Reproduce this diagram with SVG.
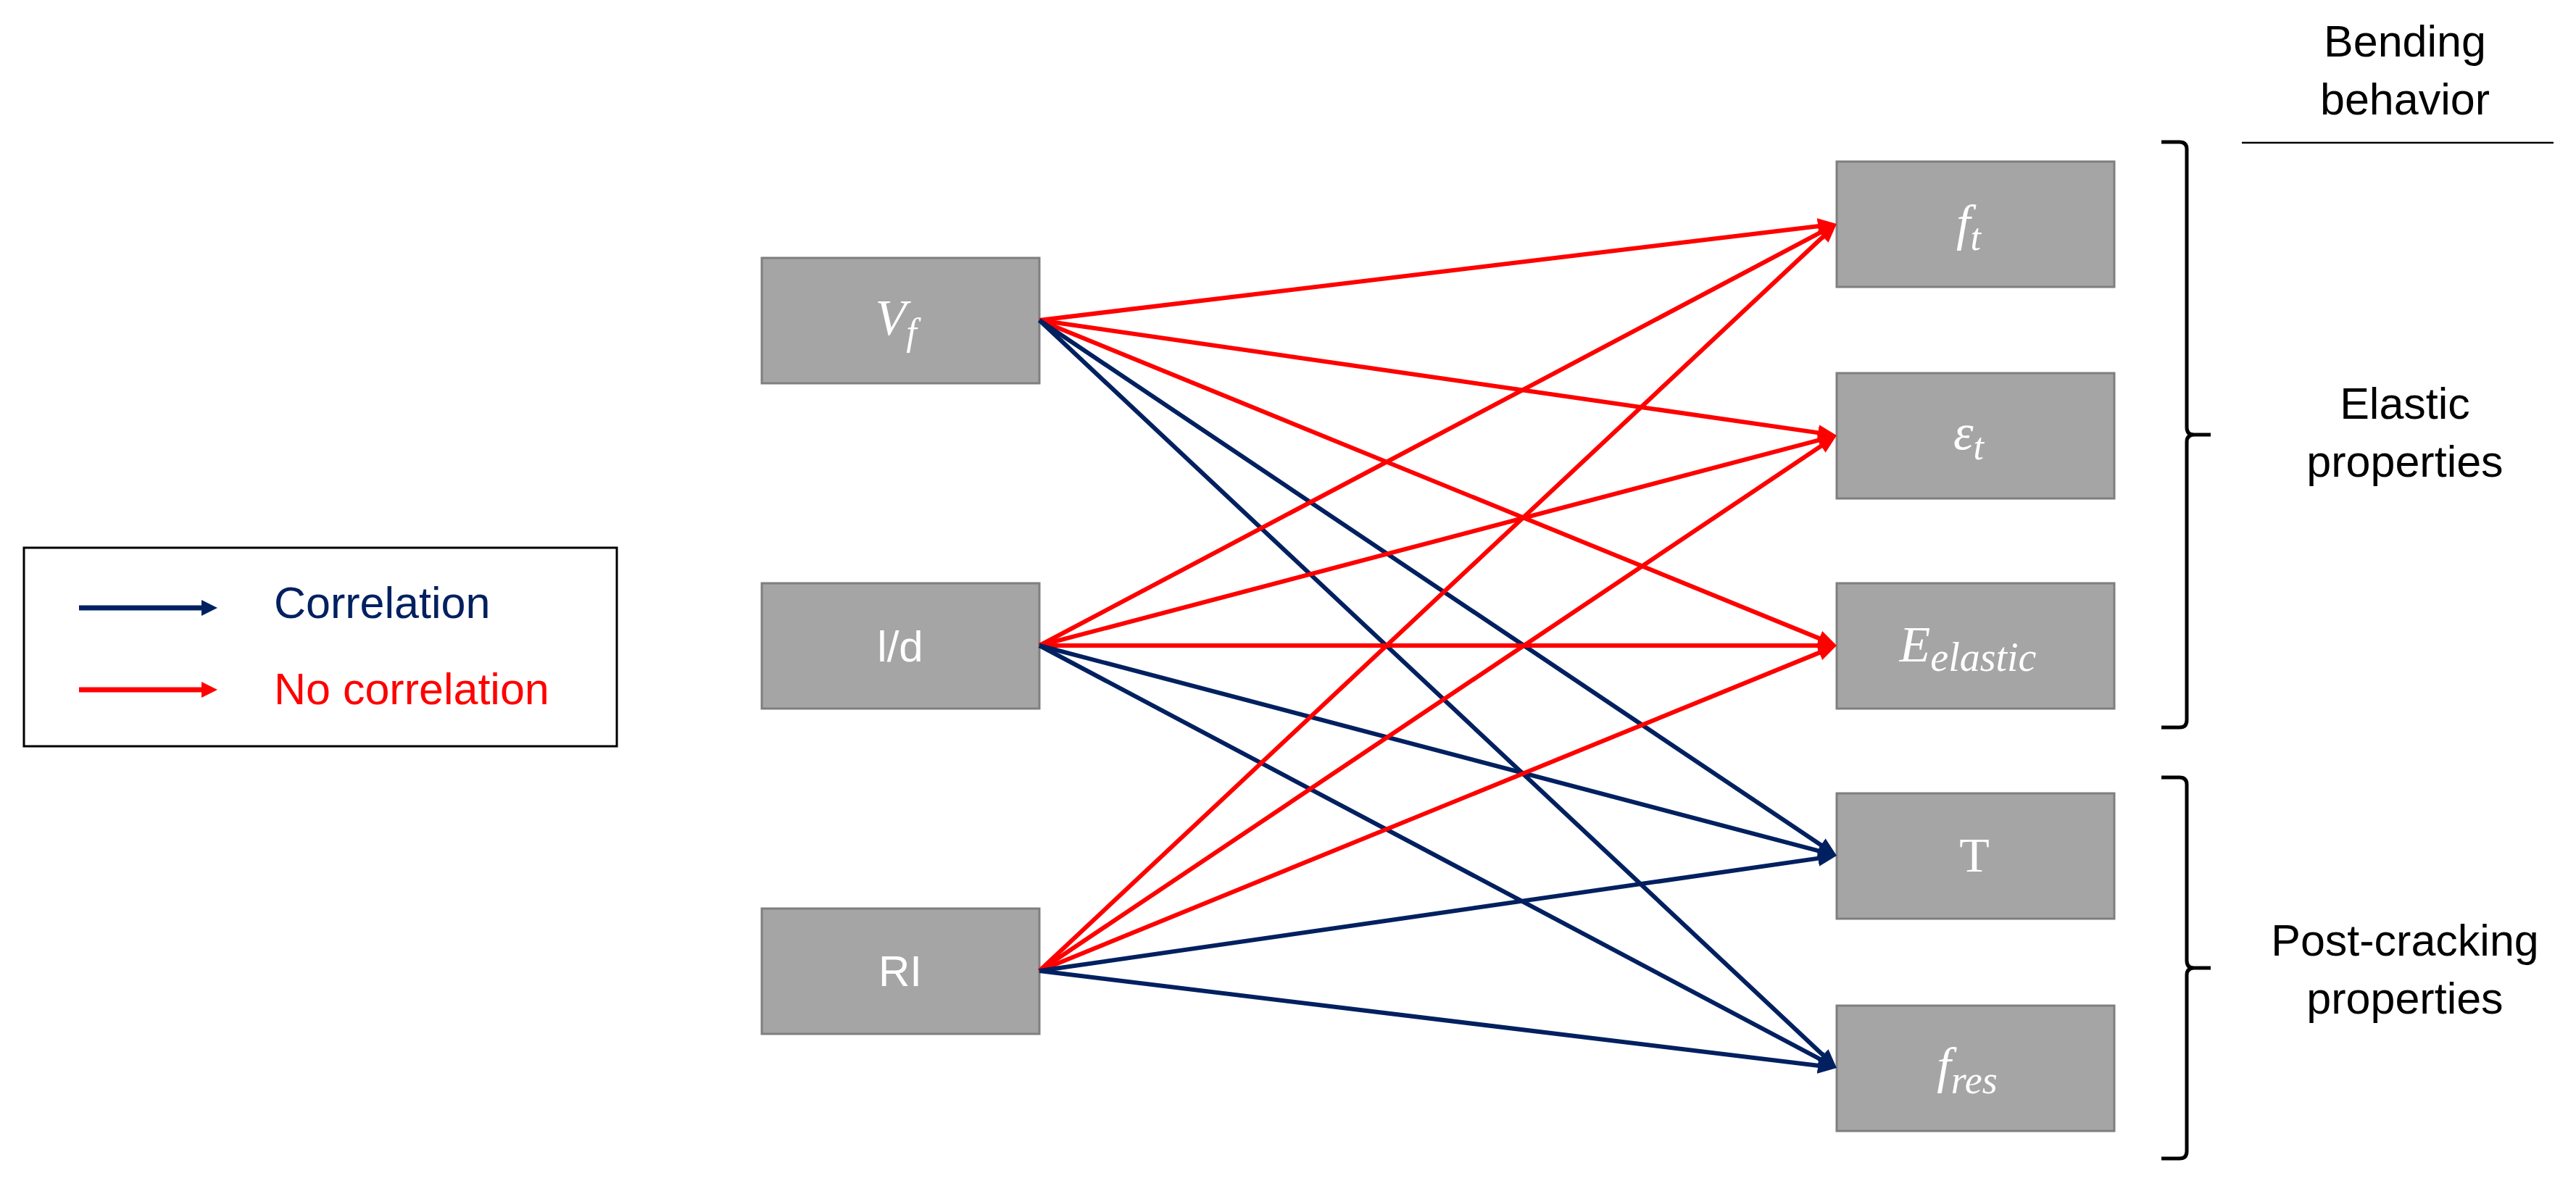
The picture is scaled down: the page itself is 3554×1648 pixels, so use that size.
<svg xmlns="http://www.w3.org/2000/svg" width="3554" height="1648" viewBox="0 0 3554 1648">
<style>
.box{fill:#A5A5A5;stroke:#7F7F7F;stroke-width:3}
.sans{font-family:"Liberation Sans",Arial,sans-serif}
.math{font-family:"Liberation Serif","Times New Roman",serif;font-style:italic;fill:#FFFFFF}
.wlab{fill:#FFFFFF;font-size:60px;text-anchor:middle}
.blab{fill:#000000;font-size:61px;text-anchor:middle}
.red{stroke:#FF0000;stroke-width:6;fill:none;marker-end:url(#ahR)}
.blue{stroke:#002060;stroke-width:6;fill:none;marker-end:url(#ahB)}
.brace{stroke:#000000;stroke-width:5;fill:none;stroke-linejoin:round}
</style>
<defs>
<marker id="ahR" markerUnits="userSpaceOnUse" markerWidth="26" markerHeight="22" refX="6" refY="11" orient="auto"><path d="M0,0 L26,11 L0,22 z" fill="#FF0000"/></marker>
<marker id="ahB" markerUnits="userSpaceOnUse" markerWidth="26" markerHeight="22" refX="6" refY="11" orient="auto"><path d="M0,0 L26,11 L0,22 z" fill="#002060"/></marker>
<marker id="lgR" markerUnits="userSpaceOnUse" markerWidth="22" markerHeight="22" refX="4" refY="11" orient="auto"><path d="M0,0 L22,11 L0,22 z" fill="#FF0000"/></marker>
<marker id="lgB" markerUnits="userSpaceOnUse" markerWidth="22" markerHeight="22" refX="4" refY="11" orient="auto"><path d="M0,0 L22,11 L0,22 z" fill="#002060"/></marker>
</defs>
<rect width="3554" height="1648" fill="#FFFFFF"/>

<g id="legend">
<rect x="33" y="756" width="818" height="274" fill="none" stroke="#000000" stroke-width="3"/>
<line x1="109" y1="839" x2="282" y2="839" stroke="#002060" stroke-width="7" marker-end="url(#lgB)"/>
<line x1="109" y1="952" x2="282" y2="952" stroke="#FF0000" stroke-width="7" marker-end="url(#lgR)"/>
<text class="sans" x="378" y="853" font-size="61" fill="#002060">Correlation</text>
<text class="sans" x="378" y="972" font-size="61" fill="#FF0000">No correlation</text>
</g>

<g id="node-vf"><rect class="box" x="1051" y="356" width="383" height="173"/>
<text class="math" x="1236" y="462" font-size="70" text-anchor="middle">V<tspan dy="14" font-size="52">f</tspan></text></g>
<g id="node-ld"><rect class="box" x="1051" y="805" width="383" height="173"/>
<text class="sans wlab" x="1242" y="913">l/d</text></g>
<g id="node-ri"><rect class="box" x="1051" y="1254" width="383" height="173"/>
<text class="sans wlab" x="1242" y="1361">RI</text></g>

<g id="node-ft"><rect class="box" x="2534" y="223" width="383" height="173"/>
<text class="math" x="2716" y="331" font-size="70" text-anchor="middle">f<tspan dy="14" font-size="52">t</tspan></text></g>
<g id="node-et"><rect class="box" x="2534" y="515" width="383" height="173"/>
<text class="math" x="2716" y="620" font-size="70" text-anchor="middle">ε<tspan dy="14" font-size="52">t</tspan></text></g>
<g id="node-eel"><rect class="box" x="2534" y="805" width="383" height="173"/>
<text class="math" x="2715" y="913" font-size="70" text-anchor="middle">E<tspan dy="13" font-size="56">elastic</tspan></text></g>
<g id="node-t"><rect class="box" x="2534" y="1095" width="383" height="173"/>
<text x="2724" y="1203" font-size="68" text-anchor="middle" font-family="'Liberation Serif','Times New Roman',serif" fill="#FFFFFF">T</text></g>
<g id="node-fres"><rect class="box" x="2534" y="1388" width="383" height="173"/>
<text class="math" x="2714" y="1494" font-size="70" text-anchor="middle">f<tspan dy="15" font-size="54">res</tspan></text></g>

<g id="connectors">
<line class="red" x1="1434" y1="442" x2="2514.1" y2="311.4"/>
<line class="red" x1="1434" y1="442" x2="2514.2" y2="598.1"/>
<line class="red" x1="1434" y1="442" x2="2515.5" y2="883.4"/>
<line class="blue" x1="1434" y1="442" x2="2517.4" y2="1169.8"/>
<line class="blue" x1="1434" y1="442" x2="2519.4" y2="1460.3"/>
<line class="red" x1="1434" y1="891" x2="2516.3" y2="318.4"/>
<line class="red" x1="1434" y1="891" x2="2514.7" y2="606.1"/>
<line class="red" x1="1434" y1="891" x2="2514" y2="891"/>
<line class="blue" x1="1434" y1="891" x2="2514.7" y2="1175.9"/>
<line class="blue" x1="1434" y1="891" x2="2516.3" y2="1464.6"/>
<line class="red" x1="1434" y1="1340" x2="2519.4" y2="322.7"/>
<line class="red" x1="1434" y1="1340" x2="2517.4" y2="612.2"/>
<line class="red" x1="1434" y1="1340" x2="2515.5" y2="898.6"/>
<line class="blue" x1="1434" y1="1340" x2="2514.2" y2="1183.9"/>
<line class="blue" x1="1434" y1="1340" x2="2514.1" y2="1471.6"/>
</g>

<g id="header">
<text class="sans blab" x="3318" y="78">Bending</text>
<text class="sans blab" x="3318" y="158">behavior</text>
<line x1="3093" y1="197" x2="3523" y2="197" stroke="#000000" stroke-width="2.5"/>
</g>

<g id="group-elastic">
<path class="brace" d="M2982,196 L3007,196 Q3017,196 3017,206 L3017,590 Q3017,600 3027,600 L3050,600 M3027,600 Q3017,600 3017,610 L3017,994 Q3017,1004 3007,1004 L2982,1004"/>
<text class="sans blab" x="3318" y="578">Elastic</text>
<text class="sans blab" x="3318" y="658">properties</text>
</g>

<g id="group-postcracking">
<path class="brace" d="M2982,1073 L3007,1073 Q3017,1073 3017,1083 L3017,1326 Q3017,1336 3027,1336 L3050,1336 M3027,1336 Q3017,1336 3017,1346 L3017,1589 Q3017,1599 3007,1599 L2982,1599"/>
<text class="sans blab" x="3318" y="1319">Post-cracking</text>
<text class="sans blab" x="3318" y="1399">properties</text>
</g>
</svg>
